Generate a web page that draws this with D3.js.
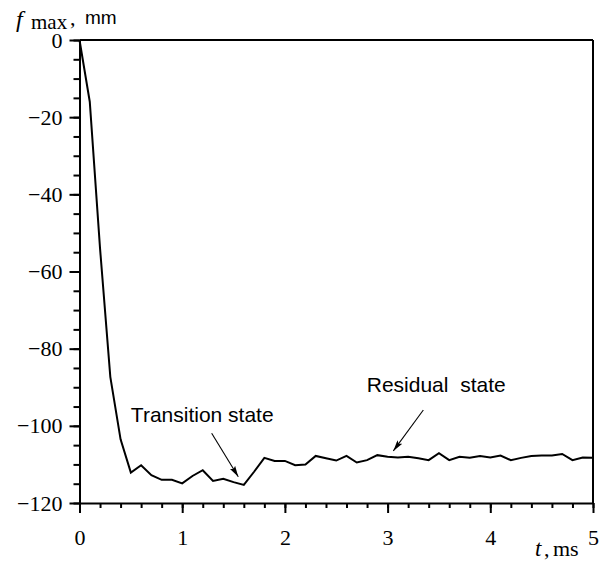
<!DOCTYPE html>
<html>
<head>
<meta charset="utf-8">
<script src="https://cdn.jsdelivr.net/npm/d3@7"></script>
<style>
  html, body { margin: 0; padding: 0; background: #fff; }
  svg { display: block; }
</style>
</head>
<body>
<svg id="chart" width="601" height="566"></svg>
<script>
// ---- data ----
const timeMs = [0, 0.1, 0.2, 0.3, 0.4, 0.5, 0.6, 0.7, 0.8, 0.9,
  1.0, 1.1, 1.2, 1.3, 1.4, 1.5, 1.6, 1.7, 1.8, 1.9,
  2.0, 2.1, 2.2, 2.3, 2.4, 2.5, 2.6, 2.7, 2.8, 2.9,
  3.0, 3.1, 3.2, 3.3, 3.4, 3.5, 3.6, 3.7, 3.8, 3.9,
  4.0, 4.1, 4.2, 4.3, 4.4, 4.5, 4.6, 4.7, 4.8, 4.9, 5.0];
const fMax = [0, -16, -54, -87.3, -103.5, -112.1, -110.2, -112.8, -114, -114,
  -114.9, -113, -111.5, -114.3, -113.7, -114.6, -115.3, -111.9, -108.3, -109.1,
  -109.1, -110.2, -110, -107.8, -108.4, -109, -107.8, -109.5, -108.9, -107.6,
  -108, -108.2, -108, -108.4, -108.9, -107.1, -108.9, -108, -108.3, -107.8,
  -108.2, -107.7, -108.9, -108.3, -107.8, -107.7, -107.7, -107.3, -108.9, -108.2, -108.3];
const xTicks = [0, 1, 2, 3, 4, 5];
const yTicks = [0, -20, -40, -60, -80, -100, -120];
const annotations = [
  { text: "Transition state", tx: 0.50, ty: -98.9, x1: 1.287, y1: -101.9, x2: 1.546, y2: -113.2 },
  { text: "Residual\u00a0\u00a0state", tx: 2.797, ty: -91.2, x1: 3.348, y1: -95.9, x2: 3.056, y2: -106.5 }
];

// ---- layout ----
const W = 601, H = 566;
const margin = { left: 79.5, right: 8, top: 40, bottom: 63 };
const svg = d3.select("#chart");
const x = d3.scaleLinear().domain([0, 5]).range([margin.left, W - margin.right]);
const y = d3.scaleLinear().domain([-120, 0]).range([H - margin.bottom, margin.top]);

const serif = "'Liberation Serif', 'Times New Roman', serif";
const sans = "'Liberation Sans', Arial, sans-serif";

// minor ticks
const xMinor = d3.range(0, 5.0001, 0.2);
const yMinor = d3.range(-120, 0.0001, 5);
svg.append("g").attr("transform", `translate(0,${y(-120)})`)
  .call(d3.axisBottom(x).tickValues(xMinor).tickSize(5).tickFormat(""))
  .call(g => g.select(".domain").remove())
  .call(g => g.selectAll("line").attr("stroke", "#000").attr("stroke-width", 2));
svg.append("g").attr("transform", `translate(${x(0)},0)`)
  .call(d3.axisLeft(y).tickValues(yMinor).tickSize(6).tickFormat(""))
  .call(g => g.select(".domain").remove())
  .call(g => g.selectAll("line").attr("stroke", "#000").attr("stroke-width", 2));

// major axes
const xAxis = svg.append("g").attr("transform", `translate(0,${y(-120)})`)
  .call(d3.axisBottom(x).tickValues(xTicks).tickSize(10).tickPadding(16).tickSizeOuter(0).tickFormat(d3.format("d")));
const yAxis = svg.append("g").attr("transform", `translate(${x(0)},0)`)
  .call(d3.axisLeft(y).tickValues(yTicks).tickSize(10).tickPadding(7).tickSizeOuter(0).tickFormat(d3.format("d")));
[xAxis, yAxis].forEach(g => {
  g.select(".domain").attr("stroke", "#000").attr("stroke-width", 2);
  g.selectAll(".tick line").attr("stroke", "#000").attr("stroke-width", 2);
  g.selectAll(".tick text").attr("fill", "#000").style("font-family", serif).style("font-size", "22px");
});

// frame top and right
svg.append("line").attr("x1", x(0)).attr("x2", x(5)).attr("y1", y(0)).attr("y2", y(0))
  .attr("stroke", "#000").attr("stroke-width", 2);
svg.append("line").attr("x1", x(5)).attr("x2", x(5)).attr("y1", y(0)).attr("y2", y(-120))
  .attr("stroke", "#000").attr("stroke-width", 2);

// data line
const pts = timeMs.map((t, i) => [t, fMax[i]]);
svg.append("path").datum(pts)
  .attr("fill", "none").attr("stroke", "#000").attr("stroke-width", 2)
  .attr("stroke-linejoin", "miter")
  .attr("d", d3.line().x(d => x(d[0])).y(d => y(d[1])));

// arrow marker
svg.append("defs").append("marker")
  .attr("id", "arr").attr("viewBox", "0 0 11 6").attr("refX", 11).attr("refY", 3)
  .attr("markerWidth", 11).attr("markerHeight", 6).attr("markerUnits", "userSpaceOnUse")
  .attr("orient", "auto")
  .append("path").attr("d", "M0,0 L11,3 L0,6 L2,3 Z").attr("fill", "#000");

annotations.forEach(a => {
  svg.append("text").attr("x", x(a.tx)).attr("y", y(a.ty))
    .style("font-family", sans).style("font-size", "21px").attr("fill", "#000").text(a.text);
  svg.append("line").attr("x1", x(a.x1)).attr("y1", y(a.y1)).attr("x2", x(a.x2)).attr("y2", y(a.y2))
    .attr("stroke", "#000").attr("stroke-width", 1.1).attr("marker-end", "url(#arr)");
});

// axis titles
svg.append("text").attr("x", 16).attr("y", 27).style("font-family", serif).style("font-style", "italic")
  .style("font-size", "24px").text("f");
svg.append("text").attr("x", 31).attr("y", 29).style("font-family", serif).style("font-size", "21px").text("max");
const yUnit = svg.append("text").attr("x", 70).attr("y", 25);
yUnit.append("tspan").style("font-family", serif).style("font-size", "22px").text(",");
yUnit.append("tspan").attr("x", 85).attr("y", 24).style("font-family", sans).style("font-size", "19px").text("mm");

const xTitle = svg.append("text").attr("x", 535).attr("y", 556);
xTitle.append("tspan").style("font-family", serif).style("font-style", "italic").style("font-size", "23px").text("t");
xTitle.append("tspan").attr("x", 544).style("font-family", serif).style("font-size", "22px").text(",");
xTitle.append("tspan").attr("x", 553).style("font-family", serif).style("font-size", "22px").text("ms");
</script>
</body>
</html>
